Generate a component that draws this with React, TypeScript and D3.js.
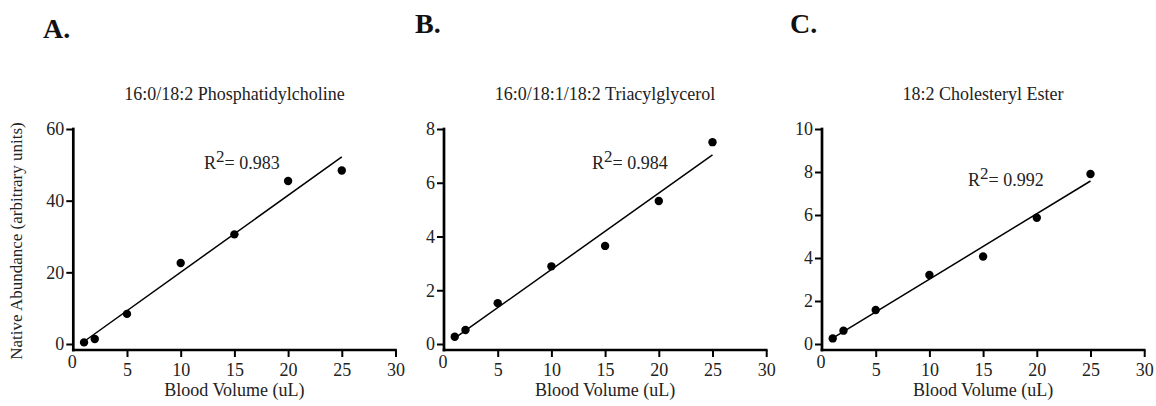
import React, { useEffect, useRef } from 'react';
import * as d3 from 'd3';

// blood volume (uL) of the dilution series
const xValues = [1, 2, 5, 10, 15, 20, 25];

// native abundance readings (arbitrary units)
const pcValues = [0.45, 1.4, 8.4, 22.6, 30.6, 45.5, 48.4];
const tagValues = [0.27, 0.52, 1.52, 2.89, 3.65, 5.32, 7.51];
const ceValues = [0.26, 0.62, 1.58, 3.21, 4.07, 5.87, 7.91];

const xTicks = [5, 10, 15, 20, 25, 30];
const pcTicks = [0, 20, 40, 60];
const tagTicks = [0, 2, 4, 6, 8];
const ceTicks = [0, 2, 4, 6, 8, 10];

const titles = [
  '16:0/18:2 Phosphatidylcholine',
  '16:0/18:1/18:2 Triacylglycerol',
  '18:2 Cholesteryl Ester',
];
const letters = ['A.', 'B.', 'C.'];
const r2Labels = ['0.983', '0.984', '0.992'];

type Panel = {
  values: number[];
  ticks: number[];
  title: string;
  letter: string;
  r2: string;
  left: number;
  letterX: number;
  letterY: number;
  r2X: number;
  r2Y: number;
};

const panels: Panel[] = [
  { values: pcValues, ticks: pcTicks, title: titles[0], letter: letters[0], r2: r2Labels[0], left: 73.3, letterX: 43, letterY: 38, r2X: 204, r2Y: 169 },
  { values: tagValues, ticks: tagTicks, title: titles[1], letter: letters[1], r2: r2Labels[1], left: 444, letterX: 415, letterY: 33, r2X: 592, r2Y: 169 },
  { values: ceValues, ticks: ceTicks, title: titles[2], letter: letters[2], r2: r2Labels[2], left: 822, letterX: 790, letterY: 33, r2X: 968, r2Y: 186 },
];

const FONT = '"Liberation Serif", "Times New Roman", Times, serif';
const INK = '#222';

// least squares fit
const fit = (xs: number[], ys: number[]) => {
  const mx = d3.mean(xs) as number;
  const my = d3.mean(ys) as number;
  const sxy = d3.sum(xs, (x, i) => (x - mx) * (ys[i] - my));
  const sxx = d3.sum(xs, (x) => (x - mx) * (x - mx));
  const slope = sxy / sxx;
  return { slope, intercept: my - slope * mx };
};

const App: React.FC = () => {
  const svgRef = useRef<SVGSVGElement | null>(null);

  useEffect(() => {
    document.body.style.margin = '0';
    const svgEl = svgRef.current;
    if (!svgEl) return;
    const svg = d3.select(svgEl);
    svg.selectAll('*').remove();

    const width = 322.2;
    const yTop = 129;
    const yZero = 344;
    const axisY = 350;

    panels.forEach((p) => {
      const x = d3.scaleLinear().domain([0, 30]).range([p.left, p.left + width]);
      const yMax = p.ticks[p.ticks.length - 1];
      const y = d3.scaleLinear().domain([0, yMax]).range([yZero, yTop]);

      const g = svg.append('g');

      // panel letter
      g.append('text')
        .attr('x', p.letterX)
        .attr('y', p.letterY)
        .attr('font-family', FONT)
        .attr('font-weight', 'bold')
        .attr('font-size', 28)
        .attr('fill', '#111')
        .text(p.letter);

      // title
      g.append('text')
        .attr('x', p.left + width / 2)
        .attr('y', 100)
        .attr('text-anchor', 'middle')
        .attr('font-family', FONT)
        .attr('font-size', 18)
        .attr('fill', INK)
        .text(p.title);

      // y axis
      g.append('g')
        .attr('transform', `translate(${p.left},0)`)
        .call(d3.axisLeft(y).tickValues(p.ticks).tickSize(7).tickPadding(2).tickFormat(d3.format('d')))
        .call((a) => a.select('.domain').remove())
        .call((a) => a.selectAll('line').attr('stroke', '#000').attr('stroke-width', 2))
        .call((a) => a.selectAll('text').attr('fill', INK).attr('font-size', 18).attr('font-family', FONT));

      // x axis
      g.append('g')
        .attr('transform', `translate(0,${axisY})`)
        .call(d3.axisBottom(x).tickValues(xTicks).tickSize(7).tickPadding(6).tickFormat(d3.format('d')))
        .call((a) => a.select('.domain').remove())
        .call((a) => a.selectAll('line').attr('stroke', '#000').attr('stroke-width', 2))
        .call((a) => a.selectAll('text').attr('fill', INK).attr('font-size', 18).attr('font-family', FONT));

      // the zero on the x axis sits a bit higher, without a tick
      g.append('text')
        .attr('x', x(0) - 1)
        .attr('y', 368)
        .attr('text-anchor', 'middle')
        .attr('font-family', FONT)
        .attr('font-size', 18)
        .attr('fill', INK)
        .text('0');

      // axis lines
      g.append('line')
        .attr('x1', p.left).attr('x2', p.left)
        .attr('y1', yTop).attr('y2', axisY)
        .attr('stroke', '#000').attr('stroke-width', 2.7).attr('stroke-linecap', 'square');
      g.append('line')
        .attr('x1', p.left).attr('x2', x(30))
        .attr('y1', axisY).attr('y2', axisY)
        .attr('stroke', '#000').attr('stroke-width', 2.7).attr('stroke-linecap', 'square');

      // x label
      g.append('text')
        .attr('x', p.left + width / 2)
        .attr('y', 396)
        .attr('text-anchor', 'middle')
        .attr('font-family', FONT)
        .attr('font-size', 18)
        .attr('fill', INK)
        .text('Blood Volume (uL)');

      // regression line
      const { slope, intercept } = fit(xValues, p.values);
      const x0 = xValues[0];
      const x1 = xValues[xValues.length - 1];
      g.append('line')
        .attr('x1', x(x0)).attr('y1', y(slope * x0 + intercept))
        .attr('x2', x(x1)).attr('y2', y(slope * x1 + intercept))
        .attr('stroke', '#000').attr('stroke-width', 1.5);

      // points
      g.append('g')
        .selectAll('circle')
        .data(p.values)
        .join('circle')
        .attr('cx', (_, i) => x(xValues[i]))
        .attr('cy', (d) => y(d))
        .attr('r', 4.2)
        .attr('fill', '#000');

      // R squared label
      const r2 = g.append('text')
        .attr('x', p.r2X)
        .attr('y', p.r2Y)
        .attr('font-family', FONT)
        .attr('font-size', 18)
        .attr('fill', INK);
      r2.append('tspan').text('R');
      r2.append('tspan').attr('dy', -7).attr('font-size', 17).text('2');
      r2.append('tspan').attr('dy', 7).text(`= ${p.r2}`);
    });

    // shared y label
    svg.append('text')
      .attr('transform', 'translate(22,241) rotate(-90)')
      .attr('text-anchor', 'middle')
      .attr('font-family', FONT)
      .attr('font-size', 17)
      .attr('fill', INK)
      .text('Native Abundance (arbitrary units)');
  }, []);

  return (
    <div style={{ width: 1156, height: 406 }}>
      <svg ref={svgRef} width={1156} height={406} role="img" aria-label="Calibration scatter plots" />
    </div>
  );
};

export default App;
